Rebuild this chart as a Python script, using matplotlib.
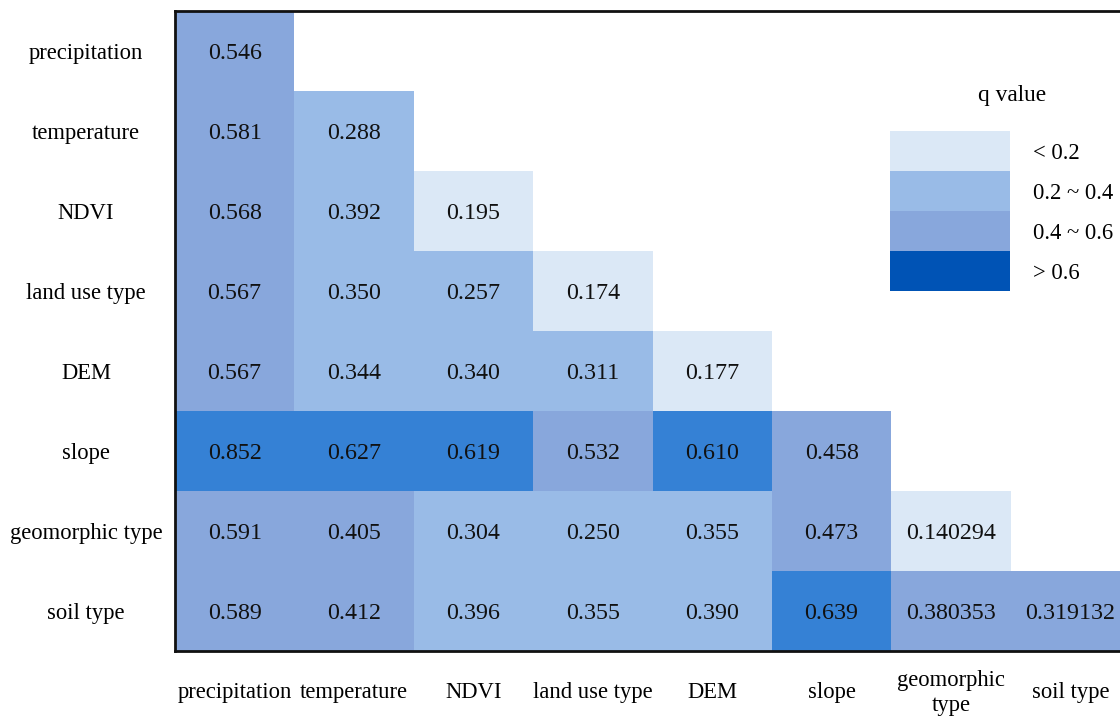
import numpy as np
import matplotlib
matplotlib.use("Agg")
import matplotlib.pyplot as plt
from matplotlib.colors import ListedColormap, BoundaryNorm

plt.rcParams['font.family'] = ['Liberation Serif', 'DejaVu Serif']

factors = ["precipitation", "temperature", "NDVI", "land use type",
           "DEM", "slope", "geomorphic type", "soil type"]
x_labels = ["precipitation", "temperature", "NDVI", "land use type",
            "DEM", "slope", "geomorphic\ntype", "soil type"]

# interaction q values (lower triangle, row by row)
q_values = [
    ["0.546"],
    ["0.581", "0.288"],
    ["0.568", "0.392", "0.195"],
    ["0.567", "0.350", "0.257", "0.174"],
    ["0.567", "0.344", "0.340", "0.311", "0.177"],
    ["0.852", "0.627", "0.619", "0.532", "0.610", "0.458"],
    ["0.591", "0.405", "0.304", "0.250", "0.355", "0.473", "0.140294"],
    ["0.589", "0.412", "0.396", "0.355", "0.390", "0.639", "0.380353", "0.319132"],
]

# colour class of each cell (0: <0.2, 1: 0.2~0.4, 2: 0.4~0.6, 3: >0.6)
q_class = [
    [2],
    [2, 1],
    [2, 1, 0],
    [2, 1, 1, 0],
    [2, 1, 1, 1, 0],
    [3, 3, 3, 2, 3, 2],
    [2, 2, 1, 1, 1, 2, 0],
    [2, 2, 1, 1, 1, 3, 2, 2],
]

legend_labels = ["< 0.2", "0.2 ~ 0.4", "0.4 ~ 0.6", "> 0.6"]
cell_colors = ["#dbe8f6", "#99bbe7", "#88a7dc", "#3581d5"]
legend_colors = ["#dbe8f6", "#99bbe7", "#88a7dc", "#0053b5"]

n = len(factors)
grid = np.full((n, n), np.nan)
for i, row in enumerate(q_class):
    for j, c in enumerate(row):
        grid[i, j] = c
grid = np.ma.masked_invalid(grid)

W, H = 1120, 716
fig = plt.figure(figsize=(W / 100, H / 100), dpi=100)
ax = fig.add_axes([175 / W, 1 - 651 / H, 955 / W, 640 / H])

cmap = ListedColormap(cell_colors)
norm = BoundaryNorm([-0.5, 0.5, 1.5, 2.5, 3.5], cmap.N)
ax.pcolormesh(np.arange(n + 1), np.arange(n + 1), grid, cmap=cmap, norm=norm)
ax.set_xlim(0, n)
ax.set_ylim(n, 0)

for i, row in enumerate(q_values):
    for j, txt in enumerate(row):
        ax.text(j + 0.5, i + 0.5, txt, ha="center", va="center_baseline",
                fontsize=17.3, color="#111111")

ax.set_xticks(np.arange(n) + 0.5)
ax.set_xticklabels(x_labels, fontsize=16.3, va="center", linespacing=1.25)
ax.set_yticks(np.arange(n) + 0.5)
ax.set_yticklabels(factors, fontsize=16.3, ha="center", va="center_baseline")
ax.tick_params(axis="x", length=0, pad=30)
ax.tick_params(axis="y", length=0, pad=64)

for side in ["left", "top", "bottom", "right"]:
    ax.spines[side].set_linewidth(2)
    ax.spines[side].set_color("#111111")

# legend block
lax = fig.add_axes([890 / W, 1 - 291 / H, 120 / W, 160 / H])
lax.bar(np.zeros(4), np.ones(4), width=1, bottom=np.arange(4),
        color=legend_colors, align="edge")
lax.set_xlim(0, 1)
lax.set_ylim(4, 0)
lax.axis("off")
for k, lab in enumerate(legend_labels):
    lax.text(1.19, k + 0.5, lab, ha="left", va="center_baseline", fontsize=16.3,
             transform=lax.transData)
lax.text(1.02, -0.95, "q value", ha="center", va="center_baseline", fontsize=16.8,
         transform=lax.transData)

fig.savefig("out.png", dpi=100)
